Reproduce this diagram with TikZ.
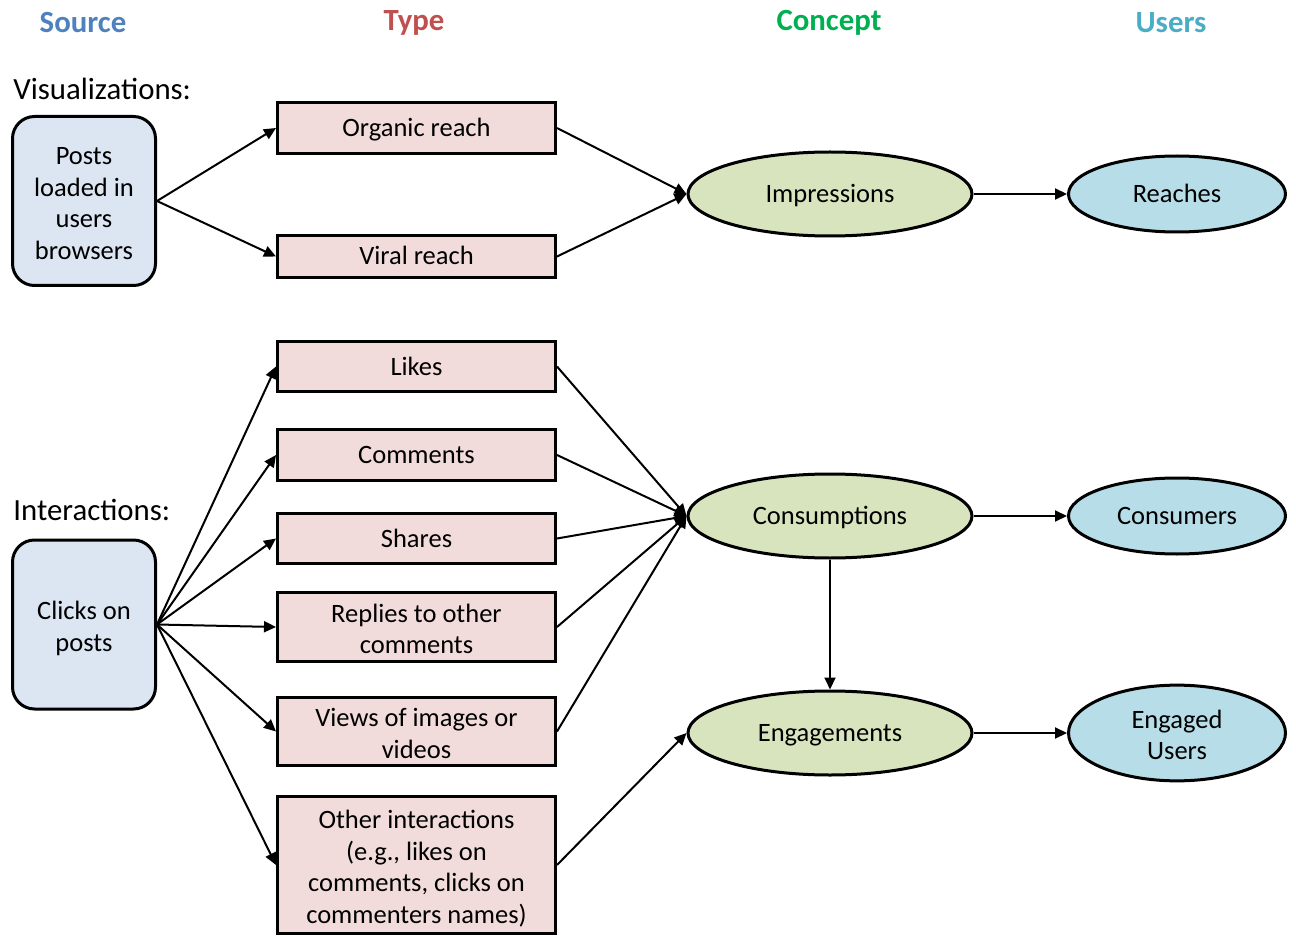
\documentclass[tikz,border=0pt]{standalone}
\usepackage{fontspec}
\setmainfont{Carlito}
\usetikzlibrary{shapes.geometric,arrows.meta}
\definecolor{srcfill}{HTML}{DCE6F2}
\definecolor{typefill}{HTML}{F2DCDB}
\definecolor{conceptfill}{HTML}{D7E4BD}
\definecolor{userfill}{HTML}{B7DEE8}
\definecolor{srchead}{HTML}{4F81BD}
\definecolor{typehead}{HTML}{C0504D}
\definecolor{concepthead}{HTML}{00B050}
\definecolor{userhead}{HTML}{4BACC6}
% strut for the first line of text set on several lines
\newcommand\mlstrut{\rule{0pt}{14.5pt}}
\begin{document}
\begin{tikzpicture}[x=0.5pt,y=-0.5pt,
  every node/.style={font=\fontsize{13.25}{15.85}\selectfont, align=center, inner sep=0pt},
  % fixed strut so that every line sits on the same baseline offset
  boxtext/.style={execute at begin node={\rule{0pt}{12pt}},
                  execute at end node={\rule[-3.5pt]{0pt}{3.5pt}}},
  srcbox/.style={boxtext, draw, line width=1.5pt, fill=srcfill, rounded corners=11pt,
    minimum width=71.5pt, minimum height=84.5pt},
  typebox/.style={boxtext, draw, line width=1.5pt, fill=typefill, minimum width=139pt},
  concept/.style={boxtext, ellipse, draw, line width=1.5pt, fill=conceptfill,
    minimum width=142pt, minimum height=42pt},
  userell/.style={boxtext, ellipse, draw, line width=1.5pt, fill=userfill,
    minimum width=108.5pt, minimum height=38pt},
  head/.style={font=\fontsize{15.4}{18}\selectfont\bfseries},
  label/.style={anchor=west, font=\fontsize{15.4}{18}\selectfont},
  link/.style={draw, line width=1pt, -{Triangle[length=6pt,width=5.5pt]}},
]
\useasboundingbox (0,0) rectangle (1296,936);

% column headings
\node[head, text=srchead] (hsrc) at (83,23) {Source};
\node[head, text=typehead] (htype) at (414,23) {Type};
\node[head, text=concepthead] (hconc) at (829,23) {Concept};
\node[head, text=userhead] (husers) at (1171,23) {Users};

% section labels
\node[label] (lvis) at (13,89) {Visualizations:};
\node[label] (lint) at (13,510) {Interactions:};

% sources
\node[srcbox] (src1) at (84,201) {\mlstrut Posts\\loaded in\\users\\browsers};
\node[srcbox] (src2) at (84,624.5) {\mlstrut Clicks on\\posts};

% types
\node[typebox, minimum height=25.5pt] (organic) at (416.5,128) {Organic reach};
\node[typebox, minimum height=21pt] (viral) at (416.5,256.5) {Viral reach};
\node[typebox, minimum height=25pt] (likes) at (416.5,366.5) {Likes};
\node[typebox, minimum height=25.5pt] (comments) at (416.5,455) {Comments};
\node[typebox, minimum height=25pt] (shares) at (416.5,538.5) {Shares};
\node[typebox, minimum height=34.5pt] (replies) at (416.5,627) {\mlstrut Replies to other\\comments};
\node[typebox, minimum height=34pt] (views) at (416.5,731.5) {\mlstrut Views of images or\\videos};
\node[typebox, minimum height=68.5pt] (other) at (416.5,865) {\mlstrut Other interactions\\(e.g., likes on\\comments, clicks on\\commenters names)};

% concepts
\node[concept] (impr) at (830,194) {Impressions};
\node[concept] (cons) at (830,516) {Consumptions};
\node[concept] (eng) at (830,733) {Engagements};

% users
\node[userell] (reach) at (1177,194) {Reaches};
\node[userell] (consumers) at (1177,516) {Consumers};
\node[userell] (engusers) at (1177,733) {\mlstrut Engaged\\Users};

% source -> type
\draw[link] (src1.east) -- (organic.west);
\draw[link] (src1.east) -- (viral.west);
\foreach \t in {likes,comments,shares,replies,views,other}
  \draw[link] (src2.east) -- (\t.west);

% type -> concept
\draw[link] (organic.east) -- (impr.west);
\draw[link] (viral.east) -- (impr.west);
\foreach \t in {likes,comments,shares,replies,views}
  \draw[link] (\t.east) -- (cons.west);
\draw[link] (other.east) -- (eng.west);
\draw[link] (cons.south) -- (eng.north);

% concept -> users
\draw[link] (impr.east) -- (reach.west);
\draw[link] (cons.east) -- (consumers.west);
\draw[link] (eng.east) -- (engusers.west);
\end{tikzpicture}
\end{document}
